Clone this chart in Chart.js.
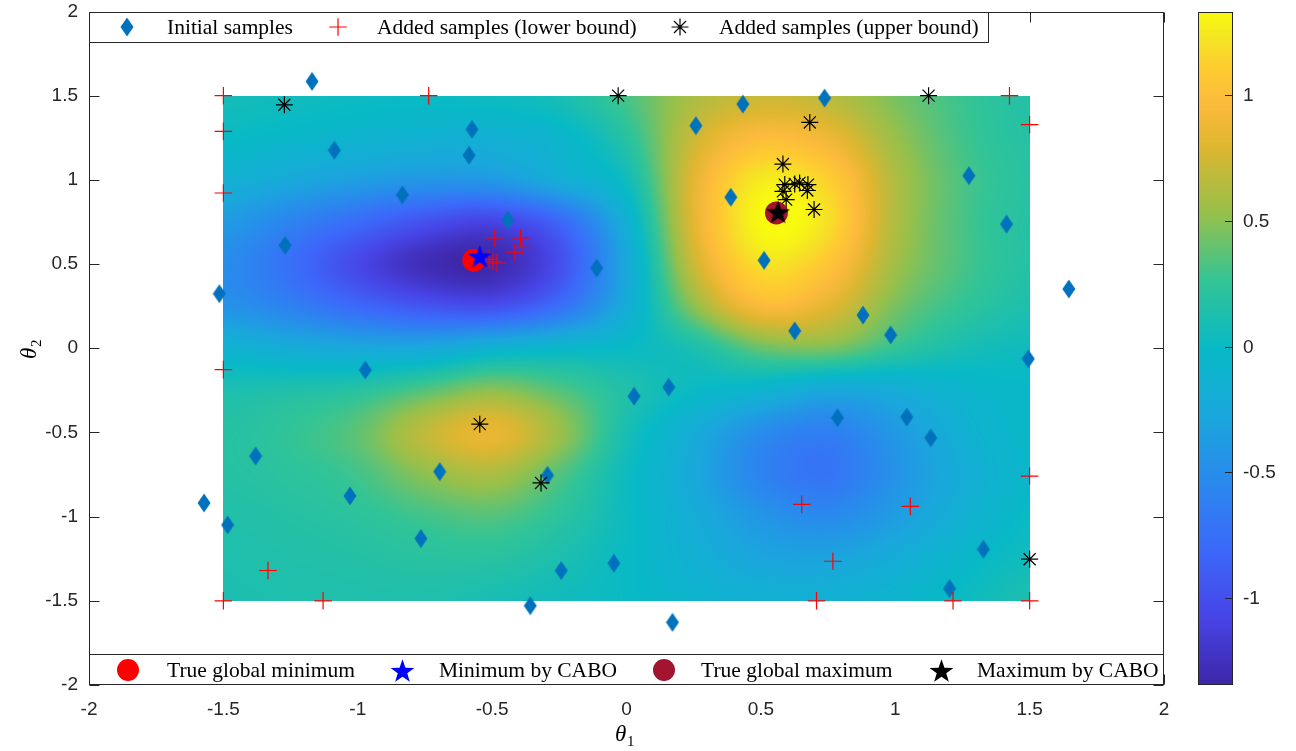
<!DOCTYPE html>
<html><head><meta charset="utf-8">
<script src="https://cdn.jsdelivr.net/npm/chart.js@4"></script>
<style>html,body{margin:0;padding:0;background:#fff;}canvas{display:block;}</style>
</head><body>
<canvas id="c" width="1296" height="751"></canvas>
<script>
// ---------------- data ----------------
const axisTicks = [-2, -1.5, -1, -0.5, 0, 0.5, 1, 1.5, 2];
const colorbarTicks = [-1, -0.5, 0, 0.5, 1];
const colorbarMin = -1.345, colorbarMax = 1.33;

const initX = [-1.170,-1.087,-0.575,-0.586,-0.834,-1.270,-0.441,-0.111,-1.515,-0.972,-1.380,-0.695,-1.029,-0.294,-1.484,-1.572,-0.765,-0.243,-0.358,-0.047,0.171,0.028,0.157,0.258,0.433,0.737,0.388,0.512,0.626,0.880,0.983,1.274,1.414,1.646,1.495,0.785,1.043,1.132,1.328,1.202];
const initY = [1.585,1.176,1.300,1.146,0.911,0.611,0.761,0.476,0.324,-0.129,-0.640,-0.733,-0.877,-0.755,-1.049,-0.919,-1.130,-1.320,-1.529,-1.277,-1.628,-0.285,-0.231,1.322,1.450,1.486,0.897,0.522,0.103,0.197,0.079,1.025,0.737,0.352,-0.063,-0.413,-0.409,-0.532,-1.194,-1.427];

const lowerX = [-1.5,-1.5,-1.5,-0.736,1.425,1.5,-1.5,-1.334,-1.5,-1.129,1.5,1.056,0.768,0.707,1.215,1.5,0.652,-0.490,-0.394,-0.390,-0.415,-0.511,-0.497,-0.482];
const lowerY = [1.5,1.288,0.922,1.5,1.5,1.328,-0.127,-1.320,-1.5,-1.5,-0.759,-0.939,-1.265,-1.5,-1.5,-1.5,-0.927,0.656,0.656,0.600,0.571,0.528,0.515,0.506];

const upperX = [-1.273,-0.031,1.124,0.682,0.582,0.589,0.626,0.644,0.675,0.673,0.582,0.594,0.698,-0.546,-0.318,1.5];
const upperY = [1.446,1.5,1.5,1.341,1.094,0.972,0.976,0.982,0.972,0.937,0.932,0.883,0.824,-0.451,-0.800,-1.253];

const trueMinX = [-0.568], trueMinY = [0.523];
const caboMinX = [-0.546], caboMinY = [0.547];
const trueMaxX = [0.558],  trueMaxY = [0.804];
const caboMaxX = [0.564],  caboMaxY = [0.810];

// surface values on a 0.25 grid
const gridX = [-1.5,-1.25,-1,-0.75,-0.5,-0.25,0,0.25,0.5,0.75,1,1.25,1.5];
const gridY = [1.5,1.25,1,0.75,0.5,0.25,0,-0.25,-0.5,-0.75,-1,-1.25,-1.5];
const surfaceZ = [
 [ 0.07, 0.05, 0.02, 0.01, 0.03, 0.10, 0.32, 0.60, 0.72, 0.66, 0.45, 0.28, 0.17],
 [ 0.00,-0.05,-0.10,-0.14,-0.15,-0.07, 0.20, 0.72, 0.98, 0.88, 0.54, 0.30, 0.18],
 [-0.15,-0.25,-0.35,-0.42,-0.40,-0.20, 0.05, 0.82, 1.25, 1.12, 0.62, 0.33, 0.20],
 [-0.38,-0.58,-0.78,-0.98,-1.08,-0.82,-0.15, 0.82, 1.32, 1.20, 0.62, 0.32, 0.18],
 [-0.50,-0.75,-1.05,-1.28,-1.32,-1.00,-0.25, 0.72, 1.20, 1.05, 0.57, 0.32, 0.18],
 [-0.45,-0.60,-0.80,-0.95,-1.00,-0.75,-0.20, 0.50, 0.95, 0.82, 0.45, 0.25, 0.13],
 [-0.12,-0.20,-0.25,-0.25,-0.12,-0.05, 0.00, 0.12, 0.40, 0.45, 0.25, 0.10, 0.04],
 [ 0.12, 0.15, 0.20, 0.35, 0.50, 0.35, 0.15, 0.00,-0.10,-0.25,-0.20,-0.08,-0.02],
 [ 0.18, 0.25, 0.38, 0.68, 0.85, 0.55, 0.10,-0.20,-0.50,-0.62,-0.40,-0.15,-0.03],
 [ 0.18, 0.22, 0.30, 0.50, 0.60, 0.35, 0.03,-0.25,-0.58,-0.70,-0.45,-0.20,-0.05],
 [ 0.15, 0.18, 0.22, 0.30, 0.35, 0.22, 0.02,-0.20,-0.42,-0.52,-0.36,-0.15, 0.00],
 [ 0.13, 0.15, 0.17, 0.20, 0.20, 0.12, 0.00,-0.15,-0.28,-0.30,-0.20,-0.05, 0.05],
 [ 0.12, 0.13, 0.14, 0.14, 0.10, 0.05, 0.00,-0.08,-0.15,-0.15,-0.08, 0.02, 0.12]
];

// ---------------- styling helpers ----------------
const AXIS_COLOR = '#262626';
const TICK_FONT = '19px "Liberation Sans", Arial, sans-serif';
const LEG_FONT = '21.5px "Liberation Serif", "Times New Roman", serif';

const parulaStops = [
 [0.00,[62,38,168]],[0.10,[71,68,230]],[0.20,[60,104,250]],[0.30,[42,136,238]],
 [0.40,[26,167,220]],[0.50,[8,185,198]],[0.60,[50,196,150]],[0.70,[150,192,75]],
 [0.80,[222,182,48]],[0.86,[252,186,60]],[0.92,[254,205,48]],[0.96,[245,228,36]],[1.00,[249,251,14]]
];
function parula(t){
  t = Math.max(0, Math.min(1, t));
  for (let i=1;i<parulaStops.length;i++){
    if (t <= parulaStops[i][0]){
      const [t0,c0] = parulaStops[i-1], [t1,c1] = parulaStops[i];
      const f = (t-t0)/(t1-t0);
      return [0,1,2].map(k => Math.round(c0[k] + (c1[k]-c0[k])*f));
    }
  }
  return parulaStops[parulaStops.length-1][1];
}

function makeDiamond(){
  const c = document.createElement('canvas'); c.width = 14; c.height = 20;
  const g = c.getContext('2d'); g.fillStyle = '#0072BD';
  g.beginPath(); g.moveTo(7,0.5); g.lineTo(13.5,10); g.lineTo(7,19.5); g.lineTo(0.5,10); g.closePath(); g.fill();
  return c;
}
function makeStar(color, R){
  const s = Math.ceil(2*R+2); const c = document.createElement('canvas'); c.width = s; c.height = s;
  const g = c.getContext('2d'); g.fillStyle = color; g.beginPath();
  const cx = s/2, cy = s/2 + R*0.1, r = R*0.40;
  for (let i=0;i<10;i++){
    const a = -Math.PI/2 + i*Math.PI/5; const rr = (i%2===0)?R:r;
    const px = cx + rr*Math.cos(a), py = cy + rr*Math.sin(a);
    if(i===0) g.moveTo(px,py); else g.lineTo(px,py);
  }
  g.closePath(); g.fill(); return c;
}
const diamondImg = makeDiamond();
const blueStar = makeStar('#0000FF', 12.5);
const blackStar = makeStar('#000000', 12.5);

function pts(xs, ys){ return xs.map((x,i)=>({x:x, y:ys[i]})); }

// ---------------- surface plugin ----------------
function cr(p0,p1,p2,p3,t){
  return 0.5*((2*p1)+(-p0+p2)*t+(2*p0-5*p1+4*p2-p3)*t*t+(-p0+3*p1-3*p2+p3)*t*t*t);
}
function zAt(i,j){
  i = Math.max(0, Math.min(surfaceZ.length-1, i));
  j = Math.max(0, Math.min(surfaceZ[0].length-1, j));
  return surfaceZ[i][j];
}
function sample(u, v){
  const j = Math.floor(u), i = Math.floor(v);
  const fu = u - j, fv = v - i;
  const rows = [];
  for (let di=-1; di<=2; di++){
    rows.push(cr(zAt(i+di,j-1), zAt(i+di,j), zAt(i+di,j+1), zAt(i+di,j+2), fu));
  }
  return cr(rows[0],rows[1],rows[2],rows[3],fv);
}
let surfaceCanvas = null;
const surfacePlugin = {
  id:'surface',
  beforeDatasetsDraw(chart){
    const xs = chart.scales.x, ys = chart.scales.y, ctx = chart.ctx;
    const x0 = xs.getPixelForValue(gridX[0]), x1 = xs.getPixelForValue(gridX[gridX.length-1]);
    const y0 = ys.getPixelForValue(gridY[0]), y1 = ys.getPixelForValue(gridY[gridY.length-1]);
    const L = Math.round(x0), T = Math.round(y0), W = Math.round(x1) - L, H = Math.round(y1) - T;
    if (!surfaceCanvas){
      surfaceCanvas = document.createElement('canvas'); surfaceCanvas.width = W; surfaceCanvas.height = H;
      const g = surfaceCanvas.getContext('2d'); const img = g.createImageData(W, H);
      const dx = gridX[1]-gridX[0], dy = gridY[0]-gridY[1];
      for (let py=0; py<H; py++){
        const yv = ys.getValueForPixel(T + py + 0.5);
        const v = Math.max(0, Math.min(gridY.length-1.0001, (gridY[0]-yv)/dy));
        for (let px=0; px<W; px++){
          const xv = xs.getValueForPixel(L + px + 0.5);
          const u = Math.max(0, Math.min(gridX.length-1.0001, (xv-gridX[0])/dx));
          const z = sample(u, v);
          const c = parula((z-colorbarMin)/(colorbarMax-colorbarMin));
          const k = (py*W+px)*4;
          img.data[k]=c[0]; img.data[k+1]=c[1]; img.data[k+2]=c[2]; img.data[k+3]=255;
        }
      }
      g.putImageData(img,0,0);
    }
    ctx.drawImage(surfaceCanvas, L, T);
  }
};

// ---------------- frame, legends, colorbar ----------------
function drawPlus(ctx,x,y,r,color){
  ctx.save(); ctx.strokeStyle=color; ctx.lineWidth=1.2; ctx.beginPath();
  ctx.moveTo(x-r,y); ctx.lineTo(x+r,y); ctx.moveTo(x,y-r); ctx.lineTo(x,y+r); ctx.stroke(); ctx.restore();
}
function drawAsterisk(ctx,x,y,r,color){
  ctx.save(); ctx.strokeStyle=color; ctx.lineWidth=1.2; ctx.beginPath();
  for (let k=0;k<4;k++){ const a=k*Math.PI/4; ctx.moveTo(x-r*Math.cos(a),y-r*Math.sin(a)); ctx.lineTo(x+r*Math.cos(a),y+r*Math.sin(a)); }
  ctx.stroke(); ctx.restore();
}
function drawDot(ctx,x,y,r,color){ ctx.save(); ctx.fillStyle=color; ctx.beginPath(); ctx.arc(x,y,r,0,2*Math.PI); ctx.fill(); ctx.restore(); }
function drawImg(ctx,img,x,y){ ctx.drawImage(img, Math.round(x-img.width/2), Math.round(y-img.height/2)); }

const framePlugin = {
  id:'frame',
  afterDatasetsDraw(chart){
    const ctx = chart.ctx, a = chart.chartArea, xs = chart.scales.x, ys = chart.scales.y;
    const L = Math.round(a.left)+0.5, R = Math.round(a.right)-0.5, T = Math.round(a.top)+0.5, B = Math.round(a.bottom)-0.5;
    ctx.save();
    ctx.strokeStyle = AXIS_COLOR; ctx.lineWidth = 1;
    ctx.strokeRect(L, T, R-L, B-T);
    ctx.beginPath();
    const tl = 10;
    axisTicks.forEach(v=>{
      const px = Math.round(xs.getPixelForValue(v))+0.5;
      ctx.moveTo(px,B); ctx.lineTo(px,B-tl); ctx.moveTo(px,T); ctx.lineTo(px,T+tl);
      const py = Math.round(ys.getPixelForValue(v))+0.5;
      ctx.moveTo(L,py); ctx.lineTo(L+tl,py); ctx.moveTo(R,py); ctx.lineTo(R-tl,py);
    });
    ctx.stroke();
    ctx.restore();
  },
  afterDraw(chart){
    const ctx = chart.ctx, a = chart.chartArea;
    ctx.save();
    const AL = Math.round(a.left), AR = Math.round(a.right), AT = Math.round(a.top), AB = Math.round(a.bottom);
    // top legend
    const lt = AT + 0.5, lb = AT + 30.5;
    ctx.fillStyle='#fff'; ctx.fillRect(AL+0.5, lt, 988-AL, lb-lt);
    ctx.strokeStyle=AXIS_COLOR; ctx.lineWidth=1; ctx.strokeRect(AL+0.5, lt, 988-AL, lb-lt);
    ctx.font = LEG_FONT; ctx.fillStyle='#000'; ctx.textBaseline='middle'; ctx.textAlign='left';
    const ly = AT + 15;
    drawImg(ctx, diamondImg, 127, ly); ctx.fillStyle='#000'; ctx.fillText('Initial samples', 167, ly+1);
    drawPlus(ctx, 338, ly, 8.8, '#FF0000'); ctx.fillText('Added samples (lower bound)', 377, ly+1);
    drawAsterisk(ctx, 680, ly, 8.5, '#000'); ctx.fillText('Added samples (upper bound)', 719, ly+1);
    // bottom legend
    const bt = AB - 30.5, bb = AB - 0.5;
    ctx.fillStyle='#fff'; ctx.fillRect(AL+0.5, bt, AR-AL-1, bb-bt);
    ctx.strokeStyle=AXIS_COLOR; ctx.strokeRect(AL+0.5, bt, AR-AL-1, bb-bt);
    const by = AB - 15;
    ctx.fillStyle='#000';
    drawDot(ctx, 128, by, 11, '#FF0000'); ctx.fillText('True global minimum', 167, by+1);
    drawImg(ctx, blueStar, 402, by); ctx.fillText('Minimum by CABO', 439, by+1);
    drawDot(ctx, 664, by, 11, '#A2142F'); ctx.fillText('True global maximum', 701, by+1);
    drawImg(ctx, blackStar, 941, by); ctx.fillText('Maximum by CABO', 977, by+1);

    // colorbar
    const cL = 1198, cR = 1233, cT = AT, cB = AB;
    for (let py=cT; py<cB; py++){
      const v = colorbarMax - (py+0.5-cT)/(cB-cT)*(colorbarMax-colorbarMin);
      const c = parula((v-colorbarMin)/(colorbarMax-colorbarMin));
      ctx.fillStyle = 'rgb('+c[0]+','+c[1]+','+c[2]+')';
      ctx.fillRect(cL, py, cR-cL, 1);
    }
    ctx.strokeStyle=AXIS_COLOR; ctx.lineWidth=1; ctx.strokeRect(cL+0.5, cT+0.5, cR-cL-1, cB-cT-1);
    ctx.font = TICK_FONT; ctx.textAlign='left'; ctx.textBaseline='middle'; ctx.fillStyle=AXIS_COLOR;
    ctx.beginPath();
    colorbarTicks.forEach(v=>{
      const py = Math.round(cB - (v-colorbarMin)/(colorbarMax-colorbarMin)*(cB-cT))+0.5;
      ctx.moveTo(cR-0.5, py); ctx.lineTo(cR-8, py);
      ctx.fillText(String(v), 1243, py);
    });
    ctx.stroke();

    // axis titles
    ctx.fillStyle='#000';
    ctx.font = 'italic 23px "Liberation Serif", serif'; ctx.textAlign='left'; ctx.textBaseline='alphabetic';
    ctx.fillText('\u03B8', 615, 741);
    ctx.font = '15px "Liberation Serif", serif'; ctx.fillText('1', 627, 746);
    ctx.save(); ctx.translate(36, 347); ctx.rotate(-Math.PI/2);
    ctx.font = 'italic 23px "Liberation Serif", serif'; ctx.fillText('\u03B8', -12, 0);
    ctx.font = '15px "Liberation Serif", serif'; ctx.fillText('2', 0, 5);
    ctx.restore();
    ctx.restore();
  }
};

// ---------------- chart ----------------
const ctx = document.getElementById('c').getContext('2d');
new Chart(ctx, {
  type:'scatter',
  data:{ datasets:[
    {label:'Initial samples', data:pts(initX,initY), pointStyle:diamondImg, order:7},
    {label:'Added samples (lower bound)', data:pts(lowerX,lowerY), pointStyle:'cross', pointRadius:8.8, borderColor:'#FF0000', backgroundColor:'#FF0000', pointBorderWidth:1.2, order:6},
    {label:'Added samples (upper bound)', data:pts(upperX,upperY), pointStyle:'star', pointRadius:8.5, borderColor:'#000', backgroundColor:'#000', pointBorderWidth:1.2, order:5},
    {label:'True global minimum', data:pts(trueMinX,trueMinY), pointStyle:'circle', pointRadius:11.5, backgroundColor:'#FF0000', borderColor:'#FF0000', pointBorderWidth:0, order:4},
    {label:'Minimum by CABO', data:pts(caboMinX,caboMinY), pointStyle:blueStar, order:3},
    {label:'True global maximum', data:pts(trueMaxX,trueMaxY), pointStyle:'circle', pointRadius:11.5, backgroundColor:'#A2142F', borderColor:'#A2142F', pointBorderWidth:0, order:2},
    {label:'Maximum by CABO', data:pts(caboMaxX,caboMaxY), pointStyle:blackStar, order:1}
  ]},
  options:{
    responsive:false, animation:false, devicePixelRatio:1,
    layout:{padding:{top:10, right:132, left:0, bottom:0}},
    plugins:{legend:{display:false}, tooltip:{enabled:false}},
    scales:{
      x:{type:'linear', min:-2, max:2,
         afterBuildTicks:(s)=>{ s.ticks = axisTicks.map(v=>({value:v})); },
         afterFit:(s)=>{ s.height = 66; s.paddingLeft = 0; s.paddingRight = 0; },
         grid:{display:false, drawTicks:false}, border:{display:false},
         ticks:{color:AXIS_COLOR, font:{family:'"Liberation Sans", Arial, sans-serif', size:19}, padding:13, maxRotation:0, autoSkip:false, callback:(v)=>String(v)}},
      y:{type:'linear', min:-2, max:2,
         afterBuildTicks:(s)=>{ s.ticks = axisTicks.map(v=>({value:v})); },
         afterFit:(s)=>{ s.width = 89; s.paddingTop = 0; s.paddingBottom = 0; },
         grid:{display:false, drawTicks:false}, border:{display:false},
         ticks:{color:AXIS_COLOR, font:{family:'"Liberation Sans", Arial, sans-serif', size:19}, padding:11, autoSkip:false, callback:(v)=>String(v)}}
    }
  },
  plugins:[surfacePlugin, framePlugin]
});
</script>
</body></html>
